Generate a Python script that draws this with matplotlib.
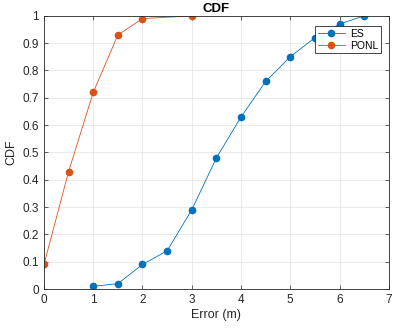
import matplotlib
matplotlib.use("Agg")
import matplotlib.pyplot as plt

# data
es_x = [1, 1.5, 2, 2.5, 3, 3.5, 4, 4.5, 5, 5.5, 6, 6.5]
es_y = [0.01, 0.02, 0.09, 0.14, 0.29, 0.48, 0.63, 0.76, 0.85, 0.92, 0.97, 1.0]
ponl_x = [0, 0.5, 1, 1.5, 2, 3]
ponl_y = [0.09, 0.43, 0.72, 0.93, 0.99, 1.0]

x_ticks = [0, 1, 2, 3, 4, 5, 6, 7]
y_ticks = [0, 0.1, 0.2, 0.3, 0.4, 0.5, 0.6, 0.7, 0.8, 0.9, 1]
y_labels = ["0", "0.1", "0.2", "0.3", "0.4", "0.5", "0.6", "0.7", "0.8", "0.9", "1"]

plt.rcParams['font.family'] = ['Liberation Sans', 'DejaVu Sans']

fig = plt.figure(figsize=(4.11, 3.30), dpi=100)
ax = fig.add_axes([0.107, 0.124, 0.839, 0.828])

ax.plot(es_x, es_y, '-o', color='#0072BD', lw=0.6, ms=4.5, label='ES')
ax.plot(ponl_x, ponl_y, '-o', color='#D95319', lw=0.6, ms=4.5, label='PONL')

ax.set_xlim(0, 7)
ax.set_ylim(0, 1)
ax.set_xticks(x_ticks)
ax.set_yticks(y_ticks)
ax.set_yticklabels(y_labels)
ax.grid(True, color='#e6e6e6', lw=0.6)
ax.set_axisbelow(True)
ax.tick_params(direction='in', length=3, width=0.5, labelsize=8.5,
               colors='#262626', top=True, right=True)
for s in ax.spines.values():
    s.set_color('#262626')
    s.set_linewidth(0.6)

ax.set_title("CDF", fontsize=9.5, fontweight='bold', pad=3)
ax.set_xlabel("Error (m)", fontsize=9, color='#262626', labelpad=2)
ax.set_ylabel("CDF", fontsize=9, color='#262626', labelpad=4)

leg = ax.legend(loc='upper right', bbox_to_anchor=(0.983, 0.97), fontsize=7.5,
                fancybox=False, framealpha=1, edgecolor='#262626',
                handlelength=2.6, handletextpad=0.5, borderpad=0.25,
                labelspacing=0.2, borderaxespad=0.2)
leg.get_frame().set_linewidth(0.6)

fig.savefig("out.png", dpi=100)
